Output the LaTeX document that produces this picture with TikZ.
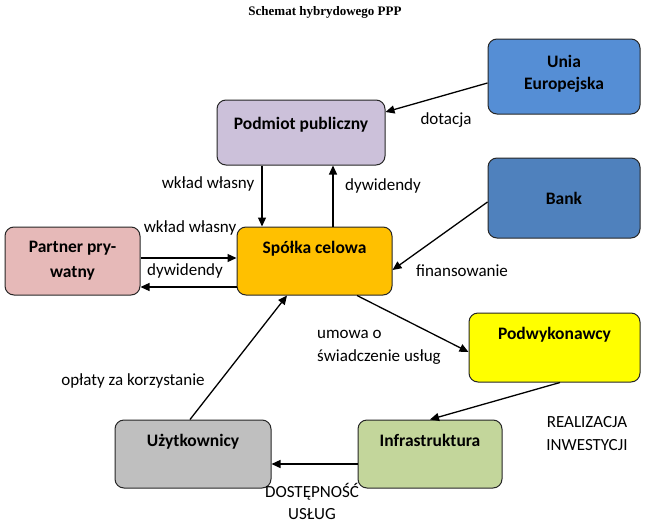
\documentclass[tikz,border=0pt]{standalone}
\usepackage{fontspec}
\setmainfont{Carlito}
\newfontfamily\titlefont{Liberation Serif}
\usetikzlibrary{arrows.meta,calc}
\definecolor{cue}{HTML}{558ED5}
\definecolor{cpp}{HTML}{CCC1DA}
\definecolor{cbank}{HTML}{4F81BD}
\definecolor{cpart}{HTML}{E6B9B8}
\definecolor{csc}{HTML}{FFC000}
\definecolor{cpod}{HTML}{FFFF00}
\definecolor{cuz}{HTML}{BFBFBF}
\definecolor{cinf}{HTML}{C3D69B}
\begin{document}
\begin{tikzpicture}[x=1pt,y=-1pt,
  box/.style={draw=black!85, line width=1pt, rounded corners=9pt, inner sep=0pt,
    font=\fontsize{17.5}{24}\selectfont\bfseries, align=center},
  topbox/.style={box, text height=26pt, text depth=42pt},
  lbl/.style={font=\fontsize{17}{23}\selectfont, inner sep=0pt},
  arr/.style={line width=1.3pt, -{Triangle[length=9pt,width=8pt]}}]
\useasboundingbox (0,0) rectangle (645,522);

\node[font=\titlefont\bfseries\fontsize{13}{15}\selectfont] (title) at (325,12) {Schemat hybrydowego PPP};

\node[box, fill=cue, minimum width=152pt, minimum height=75pt] (ue) at (564,76.5) {Unia\\[-2pt]Europejska\rule[-8pt]{0pt}{8pt}};
\node[box, fill=cpp, minimum width=168pt, text height=29pt, text depth=36pt] (pp) at (301,132.5) {Podmiot publiczny};
\node[box, fill=cbank, minimum width=152pt, minimum height=80pt] (bank) at (564,198) {Bank};
\node[box, fill=cpart, minimum width=135pt, minimum height=68pt] (part) at (72.5,261) {Partner pry-\\[1pt]watny};
\node[topbox, fill=csc, minimum width=155pt] (sc) at (314.5,261) {Spółka celowa};
\node[topbox, fill=cpod, minimum width=171pt, text depth=43pt] (pod) at (554.5,347.5) {Podwykonawcy};
\node[topbox, fill=cuz, minimum width=156pt] (uz) at (193,454) {Użytkownicy};
\node[topbox, fill=cinf, minimum width=144pt] (inf) at (430,454) {Infrastruktura};

\draw[arr] ($(ue.west)+(0,6.5)$) -- ($(pp.east)+(0,-20.5)$);
\draw[arr] ($(pp.south)+(-39,0)$) -- ($(sc.north)+(-52.5,0)$);
\draw[arr] ($(sc.north)+(18.5,0)$) -- ($(pp.south)+(32,0)$);
\draw[arr] ($(part.east)+(0,-3)$) -- ($(sc.west)+(0,-3)$);
\draw[arr] ($(sc.west)+(0,26)$) -- ($(part.east)+(0,26)$);
\draw[arr] ($(bank.west)+(0,4)$) -- ($(sc.east)+(0,9)$);
\draw[arr] ($(sc.south)+(42.5,0)$) -- ($(pod.west)+(0,4.5)$);
\draw[arr] ($(pod.south)+(5.5,0)$) -- (inf.north);
\draw[arr] ($(uz.north)+(-3,0)$) -- ($(sc.south)+(-27.5,0)$);
\draw[arr] ($(inf.west)+(0,10)$) -- ($(uz.east)+(0,10)$);

\node[lbl] (l1) at (446,120) {dotacja};
\node[lbl] (l2) at (208,184) {wkład własny};
\node[lbl] (l3) at (383,186) {dywidendy};
\node[lbl] (l4) at (190,228) {wkład własny};
\node[lbl] (l5) at (185,271) {dywidendy};
\node[lbl] (l6) at (462,271) {finansowanie};
\node[lbl, align=left] (l7) at (379,347) {umowa o\\świadczenie usług};
\node[lbl] (l8) at (133,381) {opłaty za korzystanie};
\node[lbl, align=center, font=\fontsize{17}{23}\selectfont] (l9) at (587,433.5) {REALIZACJA\\INWESTYCJI};
\node[lbl, align=center, font=\fontsize{17}{22}\selectfont] (l10) at (312,501) {DOSTĘPNOŚĆ\\USŁUG};
\end{tikzpicture}
\end{document}
